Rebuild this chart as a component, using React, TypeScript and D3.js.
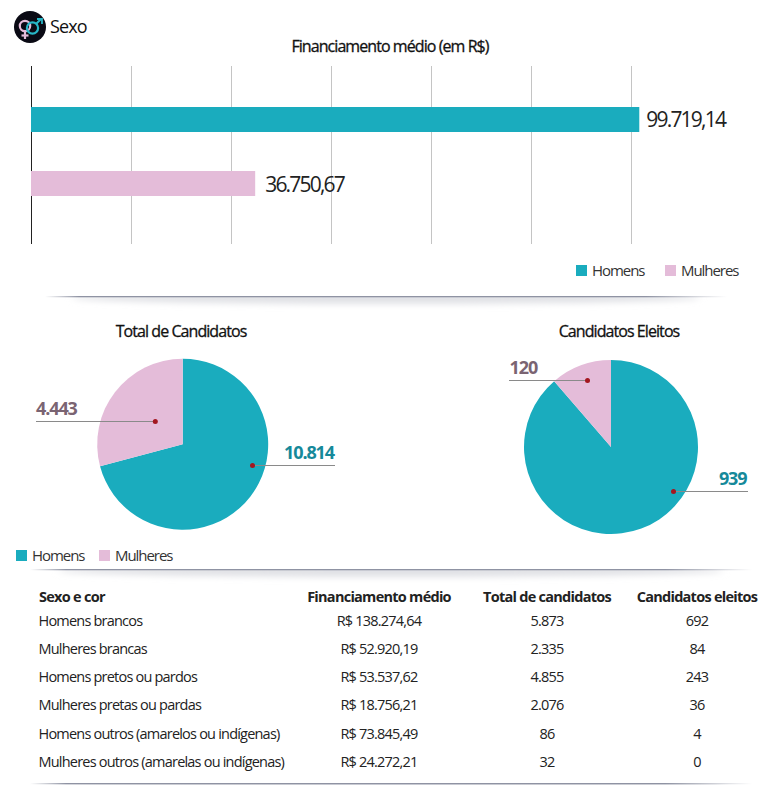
import { arc, pie, range, scaleLinear } from "d3"

const barLabels = ["Homens", "Mulheres"]
const barValues = [99719.14, 36750.67]
const barText = ["99.719,14", "36.750,67"]

const totalValues = [10814, 4443]
const totalText = ["10.814", "4.443"]
const eleitosValues = [939, 120]
const eleitosText = ["939", "120"]

const tableHead = ["Sexo e cor", "Financiamento médio", "Total de candidatos", "Candidatos eleitos"]
const tableNames = [
  "Homens brancos",
  "Mulheres brancas",
  "Homens pretos ou pardos",
  "Mulheres pretas ou pardas",
  "Homens outros (amarelos ou indígenas)",
  "Mulheres outros (amarelas ou indígenas)",
]
const tableFin = ["R$ 138.274,64", "R$ 52.920,19", "R$ 53.537,62", "R$ 18.756,21", "R$ 73.845,49", "R$ 24.272,21"]
const tableTotal = ["5.873", "2.335", "4.855", "2.076", "86", "32"]
const tableEleitos = ["692", "84", "243", "36", "4", "0"]

const TEAL = "#1aacbe"
const PINK = "#e4bcd9"
const FONT = "'Open Sans', sans-serif"
const pieColors = [TEAL, PINK]

// a escala do original não fecha em número redondo: 100px entre as linhas
const xScale = scaleLinear().domain([0, 98360]).range([31, 631])
const gridTicks = range(0, 7).map((i) => (98360 * i) / 6)

const rowY = [621, 649, 677, 705, 734, 762]

function Divider({ x, y, width }: { x: number; y: number; width: number }) {
  return (
    <g>
      <g clipPath={`url(#clip-${y})`}>
        <ellipse cx={x + width / 2} cy={y + 1} rx={width * 0.46} ry={6} fill="#e0e1e5" filter="url(#soft)" />
      </g>
      <clipPath id={`clip-${y}`}>
        <rect x={0} y={y} width={780} height={20} />
      </clipPath>
      <rect x={x} y={y - 1} width={width} height={1.3} fill="url(#line-grad)" />
    </g>
  )
}

function Legend({ x, y, gap }: { x: number; y: number; gap: number }) {
  return (
    <g fontSize={15} letterSpacing={-1.05} fill="#333">
      {barLabels.map((d, i) => (
        <g key={d} transform={`translate(${x + i * gap},${y})`}>
          <rect x={0} y={-5} width={11} height={11} fill={pieColors[i]} />
          <text x={16} y={5.5}>
            {d}
          </text>
        </g>
      ))}
    </g>
  )
}

interface PieProps {
  title: string
  titleX: number
  cx: number
  cy: number
  r: number
  values: number[]
  texts: string[]
  // posição do ponto e da linha guia
  guides: { dot: [number, number]; end: number; textX: number; anchor: "start" | "end" }[]
}

function PieBlock({ title, titleX, cx, cy, r, values, texts, guides }: PieProps) {
  const arcs = pie<number>().sort(null)(values)
  const slice = arc<any>().innerRadius(0).outerRadius(r)
  const labelColors = ["#16899a", "#7a6472"]
  return (
    <g>
      <text
        x={titleX}
        y={337}
        textAnchor="middle"
        fontSize={16}
        letterSpacing={-0.93}
        fill="#111"
        stroke="#111"
        strokeWidth={0.3}
      >
        {title}
      </text>
      <g transform={`translate(${cx},${cy})`}>
        {arcs.map((a, i) => (
          <path key={i} d={slice(a) ?? ""} fill={pieColors[i]} />
        ))}
      </g>
      {guides.map((g, i) => (
        <g key={i}>
          <line x1={g.dot[0]} x2={g.end} y1={g.dot[1]} y2={g.dot[1]} stroke="#8a8a8a" strokeWidth={1} />
          <circle cx={g.dot[0]} cy={g.dot[1]} r={2.5} fill="#a3161f" />
          <text
            x={g.textX}
            y={g.dot[1] - 6.5}
            textAnchor={g.anchor}
            fontSize={18}
            fontWeight={700}
            letterSpacing={-1.1}
            fill={labelColors[i]}
          >
            {texts[i]}
          </text>
        </g>
      ))}
    </g>
  )
}

export default function App() {
  return (
    <svg
      width={780}
      height={785}
      viewBox="0 0 780 785"
      fontFamily={FONT}
      style={{ position: "absolute", left: 0, top: 0, background: "#fff" }}
    >
      <defs>
        <linearGradient id="line-grad" x1="0" x2="1" y1="0" y2="0">
          <stop offset="0" stopColor="#8f93a3" stopOpacity={0} />
          <stop offset="0.05" stopColor="#8f93a3" />
          <stop offset="0.88" stopColor="#8f93a3" />
          <stop offset="1" stopColor="#8f93a3" stopOpacity={0} />
        </linearGradient>
        <filter id="soft" x="-10%" y="-100%" width="120%" height="300%">
          <feGaussianBlur stdDeviation="4 3" />
        </filter>
      </defs>

      {/* ícone */}
      <circle cx={30} cy={27} r={16} fill="#0a0a14" />
      <g fill="none" strokeWidth={2.2}>
        <circle cx={25} cy={26} r={5.2} stroke={PINK} />
        <line x1={25} x2={25} y1={31} y2={39} stroke={PINK} />
        <line x1={21.5} x2={28.5} y1={35.5} y2={35.5} stroke={PINK} />
        <circle cx={32.5} cy={28} r={5.6} stroke="#27b6c6" />
        <line x1={36} x2={41} y1={24} y2={19} stroke="#27b6c6" />
        <path d="M37 19 H42 V24" stroke="#27b6c6" strokeWidth={1.8} />
      </g>
      <text x={50} y={33} fontSize={18} letterSpacing={-0.9} fill="#111">
        Sexo
      </text>

      <text
        x={390}
        y={52}
        textAnchor="middle"
        fontSize={16}
        letterSpacing={-0.93}
        fill="#111"
        stroke="#111"
        strokeWidth={0.3}
      >
        Financiamento médio (em R$)
      </text>

      {/* grade */}
      {gridTicks.map((t, i) => (
        <line
          key={i}
          x1={xScale(t) + 0.5}
          x2={xScale(t) + 0.5}
          y1={66}
          y2={244}
          stroke={i === 0 ? "#222" : "#c4c4c4"}
          strokeWidth={1}
        />
      ))}

      {/* barras */}
      {barValues.map((v, i) => (
        <g key={i}>
          <rect
            x={xScale(0)}
            y={i === 0 ? 107 : 171}
            width={xScale(v) - xScale(0)}
            height={25}
            fill={pieColors[i]}
          />
          <text
            x={xScale(v) + (i === 0 ? 7 : 10)}
            y={i === 0 ? 127 : 192}
            fontSize={21}
            letterSpacing={-1.8}
            fill="#222"
          >
            {barText[i]}
          </text>
        </g>
      ))}

      <Legend x={576} y={270} gap={89} />
      <Divider x={45} y={297} width={682} />

      <PieBlock
        title="Total de Candidatos"
        titleX={181}
        cx={182.7}
        cy={444.3}
        r={85.5}
        values={totalValues}
        texts={totalText}
        guides={[
          { dot: [252.5, 465.5], end: 335, textX: 334, anchor: "end" },
          { dot: [155.3, 421.5], end: 36, textX: 36, anchor: "start" },
        ]}
      />
      <PieBlock
        title="Candidatos Eleitos"
        titleX={619}
        cx={611}
        cy={447}
        r={87}
        values={eleitosValues}
        texts={eleitosText}
        guides={[
          { dot: [673.5, 491.5], end: 748, textX: 746.5, anchor: "end" },
          { dot: [587.5, 380.5], end: 509, textX: 509.5, anchor: "start" },
        ]}
      />

      <Legend x={16} y={555} gap={83} />
      <Divider x={30} y={570} width={722} />

      {/* tabela */}
      <g fontSize={14.5} fontWeight={700} letterSpacing={-0.73} fill="#222">
        <text x={39} y={602}>
          {tableHead[0]}
        </text>
        <text x={379} y={602} textAnchor="middle">
          {tableHead[1]}
        </text>
        <text x={547} y={602} textAnchor="middle">
          {tableHead[2]}
        </text>
        <text x={697} y={602} textAnchor="middle">
          {tableHead[3]}
        </text>
      </g>
      <g fontSize={14.5} letterSpacing={-0.79} fill="#222">
        {tableNames.map((name, i) => (
          <g key={name}>
            <text x={38.5} y={rowY[i] + 5}>
              {name}
            </text>
            <text x={379} y={rowY[i] + 5} textAnchor="middle">
              {tableFin[i]}
            </text>
            <text x={547} y={rowY[i] + 5} textAnchor="middle">
              {tableTotal[i]}
            </text>
            <text x={697} y={rowY[i] + 5} textAnchor="middle">
              {tableEleitos[i]}
            </text>
          </g>
        ))}
      </g>
      <Divider x={30} y={784} width={722} />
    </svg>
  )
}
